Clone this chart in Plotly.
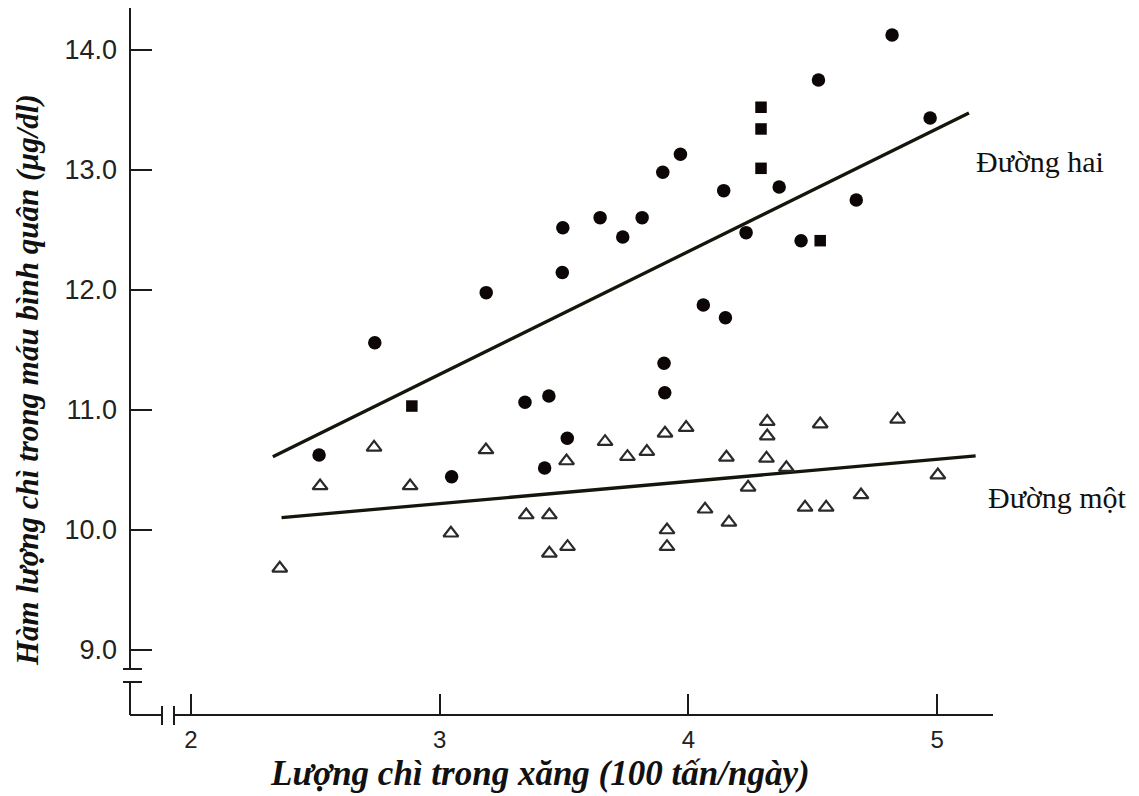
import plotly.graph_objects as go

# ---- data ----
circle_x = [2.515, 2.739, 3.187, 3.048, 3.343, 3.439, 3.422, 3.513, 3.493, 3.495,
            3.645, 3.736, 3.814, 3.897, 3.968, 3.902, 3.905, 4.060, 4.149, 4.142,
            4.232, 4.365, 4.453, 4.523, 4.675, 4.819, 4.972]
circle_y = [10.625, 11.561, 11.978, 10.444, 11.064, 11.117, 10.517, 10.764, 12.146, 12.519,
            12.603, 12.442, 12.603, 12.981, 13.131, 11.389, 11.144, 11.875, 11.769, 12.828,
            12.478, 12.858, 12.411, 13.750, 12.750, 14.125, 13.433]

square_x = [2.888, 4.292, 4.292, 4.292, 4.530]
square_y = [11.033, 13.523, 13.342, 13.014, 12.411]

triangle_x = [2.357, 2.519, 2.736, 2.881, 3.045, 3.186, 3.348, 3.441, 3.441, 3.514,
              3.510, 3.665, 3.755, 3.833, 3.906, 3.991, 3.914, 3.914, 4.067, 4.163,
              4.153, 4.240, 4.317, 4.317, 4.314, 4.394, 4.469, 4.554, 4.530, 4.694,
              4.841, 5.003]
triangle_y = [9.681, 10.367, 10.689, 10.367, 9.973, 10.667, 10.125, 10.125, 9.806, 9.861,
              10.575, 10.736, 10.611, 10.653, 10.806, 10.853, 10.000, 9.861, 10.173, 10.064,
              10.606, 10.356, 10.903, 10.783, 10.597, 10.519, 10.189, 10.189, 10.883, 10.292,
              10.922, 10.458]

line_two_x = [2.329, 5.128]
line_two_y = [10.611, 13.475]
line_one_x = [2.364, 5.155]
line_one_y = [10.103, 10.617]

x_ticks = [2, 3, 4, 5]
x_tick_labels = ["2", "3", "4", "5"]
y_ticks = [9, 10, 11, 12, 13, 14]
y_tick_labels = ["9.0", "10.0", "11.0", "12.0", "13.0", "14.0"]

x_title = "Lượng chì trong xăng (100 tấn/ngày)"
y_title = "Hàm lượng chì trong máu bình quân (µg/dl)"
label_two = "Đường hai"
label_one = "Đường một"

# ---- figure ----
OFF = 8  # page body margin
W, H = 1139 - OFF, 796 - OFF
L, R, T, B = 130 - OFF, 993 - OFF, 8 - OFF, 715 - OFF
pw, ph = R - L, B - T

def px_x(p):
    return (p - OFF - L) / pw

def px_y(p):
    return (B - (p - OFF)) / ph

fig = go.Figure()

line_col = "#15150c"
fig.add_trace(go.Scatter(x=line_two_x, y=line_two_y, mode="lines",
                         line=dict(color=line_col, width=3.3), showlegend=False))
fig.add_trace(go.Scatter(x=line_one_x, y=line_one_y, mode="lines",
                         line=dict(color=line_col, width=3.3), showlegend=False))
fig.add_trace(go.Scatter(x=triangle_x, y=triangle_y, mode="markers",
                         marker=dict(symbol="triangle-up-open", size=13,
                                     color="#2a2a2a", line=dict(width=2.2, color="#2a2a2a")),
                         showlegend=False))
fig.add_trace(go.Scatter(x=circle_x, y=circle_y, mode="markers",
                         marker=dict(symbol="circle", size=13.5, color="#0d0606",
                                     line=dict(width=0)),
                         showlegend=False))
fig.add_trace(go.Scatter(x=square_x, y=square_y, mode="markers",
                         marker=dict(symbol="square", size=11.5, color="#0d0606",
                                     line=dict(width=0)),
                         showlegend=False))

ax_col = "#1a1a1a"
lw = 2
shapes = [
    dict(type="line", xref="paper", yref="paper", x0=0, x1=0, y0=px_y(669), y1=1),
    dict(type="line", xref="paper", yref="paper", x0=px_x(123), x1=px_x(142), y0=px_y(669), y1=px_y(669)),
    dict(type="line", xref="paper", yref="paper", x0=px_x(123), x1=px_x(142), y0=px_y(682), y1=px_y(682)),
    dict(type="line", xref="paper", yref="paper", x0=0, x1=0, y0=0, y1=px_y(682)),
    dict(type="line", xref="paper", yref="paper", x0=0, x1=px_x(162), y0=0, y1=0),
    dict(type="line", xref="paper", yref="paper", x0=px_x(162), x1=px_x(162), y0=px_y(725), y1=px_y(706)),
    dict(type="line", xref="paper", yref="paper", x0=px_x(174), x1=px_x(174), y0=px_y(725), y1=px_y(706)),
    dict(type="line", xref="paper", yref="paper", x0=px_x(174), x1=1, y0=0, y1=0),
]
for s in shapes:
    s["line"] = dict(color=ax_col, width=lw)
fig.update_layout(shapes=shapes)

fig.update_xaxes(range=[1.7547, 5.2248], showline=False, showgrid=False, zeroline=False,
                 tickmode="array", tickvals=x_ticks, ticktext=x_tick_labels,
                 ticks="inside", ticklen=21, tickwidth=1.5, tickcolor=ax_col,
                 tickfont=dict(family="Liberation Sans Narrow, Arial Narrow, Liberation Sans, Arial",
                               size=24, color="#222"),
                 ticklabelstandoff=8)
fig.update_yaxes(range=[8.4583, 14.35], showline=False, showgrid=False, zeroline=False,
                 tickmode="array", tickvals=y_ticks, ticktext=y_tick_labels,
                 ticks="inside", ticklen=22, tickwidth=1.5, tickcolor=ax_col,
                 tickfont=dict(family="Liberation Sans, Arial", size=27, color="#222"),
                 ticklabelstandoff=12)

serif = "Liberation Serif, Times New Roman, serif"
fig.add_annotation(text="<b><i>" + x_title + "</i></b>", xref="paper", yref="paper",
                   x=px_x(540), y=px_y(773), xanchor="center", yanchor="middle",
                   showarrow=False, font=dict(family=serif, size=35, color="#111"))
fig.add_annotation(text="<b><i>" + y_title + "</i></b>", xref="paper", yref="paper",
                   x=px_x(27), y=px_y(380), xanchor="center", yanchor="middle",
                   showarrow=False, textangle=-90,
                   font=dict(family=serif, size=31, color="#111"))
fig.add_annotation(text=label_two, xref="paper", yref="paper",
                   x=px_x(1040), y=px_y(162), xanchor="center", yanchor="middle",
                   showarrow=False, font=dict(family=serif, size=30, color="#111"))
fig.add_annotation(text=label_one, xref="paper", yref="paper",
                   x=px_x(1057), y=px_y(497), xanchor="center", yanchor="middle",
                   showarrow=False, font=dict(family=serif, size=30, color="#111"))

fig.update_layout(width=W, height=H,
                  margin=dict(l=L, r=W - R, t=T, b=H - B, pad=0),
                  paper_bgcolor="white", plot_bgcolor="white",
                  showlegend=False)

fig.write_html("out.html")
